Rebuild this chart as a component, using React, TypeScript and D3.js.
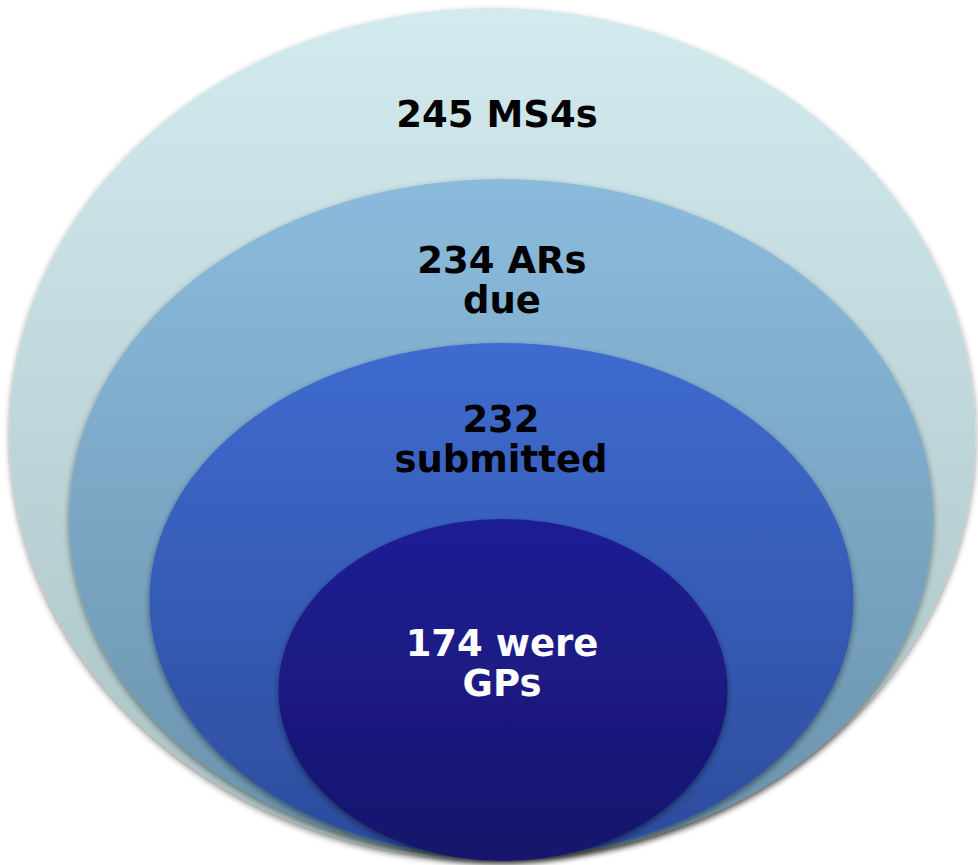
import React from "react";
import * as d3 from "d3";

// ---- Data ----
const counts = [245, 234, 232, 174];
const labelLines = [["245 MS4s"], ["234 ARs", "due"], ["232", "submitted"], ["174 were", "GPs"]];
const labelColors = ["#000000", "#000000", "#000000", "#ffffff"];
const topColors = ["#d3eaee", "#8bbbdc", "#3f6bd0", "#1f1f96"];
const bottomColors = ["#a9c2c4", "#6a92ac", "#2c4c9c", "#16146b"];

// ---- Layout (ellipse geometry: cx, cy, rx, ry) ----
const ellipses = [
  { cx: 492.5, cy: 434, rx: 483, ry: 426 },
  { cx: 501, cy: 518, rx: 432, ry: 339 },
  { cx: 501.5, cy: 600, rx: 352, ry: 257 },
  { cx: 503, cy: 690, rx: 224.5, ry: 171 },
];
const labelBaselines = [[127], [273, 313], [432, 472], [656, 696]];
const labelX = [497, 502, 501, 502];

const W = 978;
const H = 865;

export default function App() {
  const y = d3.scaleLinear().domain([0, H]).range([0, H]);
  return (
    <svg
      width={W}
      height={H}
      viewBox={`0 0 ${W} ${H}`}
      style={{ position: "absolute", left: 0, top: 0, display: "block" }}
    >
      <defs>
        {counts.map((_, i) => (
          <linearGradient key={i} id={`g${i}`} x1="0" y1="0" x2="0" y2="1">
            <stop offset="0%" stopColor={topColors[i]} />
            <stop offset="100%" stopColor={bottomColors[i]} />
          </linearGradient>
        ))}
        <filter id="sh" x="-10%" y="-10%" width="120%" height="125%">
          <feDropShadow dx="0" dy="3" stdDeviation="3" floodColor="#000" floodOpacity="0.45" />
        </filter>
      </defs>
      <rect width={W} height={H} fill="#ffffff" />
      {ellipses.map((e, i) => (
        <ellipse
          key={i}
          cx={e.cx}
          cy={y(e.cy)}
          rx={e.rx}
          ry={e.ry}
          fill={`url(#g${i})`}
          filter="url(#sh)"
        />
      ))}
      {labelLines.map((lines, i) =>
        lines.map((t, j) => (
          <text
            key={`${i}-${j}`}
            x={labelX[i]}
            y={y(labelBaselines[i][j])}
            textAnchor="middle"
            fontFamily="'DejaVu Sans', Verdana, sans-serif"
            fontWeight="bold"
            fontSize={37}
            fill={labelColors[i]}
          >
            {t}
          </text>
        ))
      )}
    </svg>
  );
}
